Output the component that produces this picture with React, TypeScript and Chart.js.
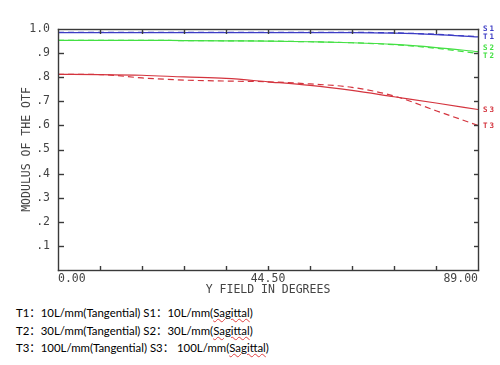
import React, { useEffect, useRef } from 'react';
import { Chart, registerables } from 'chart.js';
Chart.register(...registerables);

// Field angles (degrees) at which the MTF is sampled
const FIELD = [0, 8.9, 17.8, 26.7, 35.6, 44.5, 53.4, 62.3, 71.2, 80.1, 89];
// Series values (modulus of the OTF)
const S1 = [0.985, 0.985, 0.985, 0.985, 0.985, 0.985, 0.985, 0.985, 0.983, 0.977, 0.967];
const T1 = [0.986, 0.986, 0.986, 0.986, 0.986, 0.986, 0.986, 0.986, 0.984, 0.978, 0.968];
const S2 = [0.953, 0.953, 0.953, 0.952, 0.951, 0.95, 0.947, 0.943, 0.936, 0.923, 0.906];
const T2 = [0.953, 0.953, 0.953, 0.952, 0.951, 0.95, 0.947, 0.943, 0.935, 0.92, 0.899];
const S3 = [0.812, 0.811, 0.808, 0.801, 0.795, 0.781, 0.766, 0.745, 0.719, 0.693, 0.666];
const T3 = [0.812, 0.811, 0.797, 0.788, 0.784, 0.781, 0.772, 0.758, 0.722, 0.661, 0.6];
const SERIES_NAMES = ['S1', 'T1', 'S2', 'T2', 'S3', 'T3'];

// Tick positions / labels
const X_TICKS = [0, 8.9, 17.8, 26.7, 35.6, 44.5, 53.4, 62.3, 71.2, 80.1, 89];
const X_LABELS = ['0.00', '', '', '', '', '44.50', '', '', '', '', '89.00'];
const Y_TICKS = [0, 0.1, 0.2, 0.3, 0.4, 0.5, 0.6, 0.7, 0.8, 0.9, 1.0];
const Y_LABELS = ['', '.1', '.2', '.3', '.4', '.5', '.6', '.7', '.8', '.9', '1.0'];

const BLUE = '#3c3cc4';
const GREEN = '#44e044';
const RED = '#d4343e';
const AXIS = '#3a3a3a';
const TEXT = '#444444';
const MONO = 'DejaVu Sans Mono';

const LABEL_OFFSETS = [-8, 0, -3.5, 2.7, 1, 0.5];

const framePlugin = {
  id: 'mtfFrame',
  afterDraw(chart: any) {
    const ctx: CanvasRenderingContext2D = chart.ctx;
    const a = chart.chartArea;
    const xs = chart.scales.x;
    const ys = chart.scales.y;
    ctx.save();
    ctx.setLineDash([]);
    ctx.globalAlpha = 1;
    ctx.fillStyle = AXIS;
    const L = Math.round(a.left);
    const R = Math.round(a.right);
    const T = Math.round(a.top);
    const B = Math.round(a.bottom);
    const w = 1.4;
    const o = 0.2;
    ctx.fillRect(L - o, T - o, R - L + w, w);
    ctx.fillRect(L - o, B - o, R - L + w, w);
    ctx.fillRect(L - o, T - o, w, B - T + w);
    ctx.fillRect(R - o, T - o, w, B - T + w);
    for (let i = 1; i < X_TICKS.length - 1; i++) {
      const px = Math.round(xs.getPixelForValue(X_TICKS[i]));
      ctx.fillRect(px - o, B - 4, w, 4);
      ctx.fillRect(px - o, T + 1, w, 4);
    }
    for (let i = 1; i < Y_TICKS.length - 1; i++) {
      const py = Math.round(ys.getPixelForValue(Y_TICKS[i]));
      ctx.fillRect(L + 1, py - o, 5, w);
      ctx.fillRect(R - 4, py - o, 4, w);
    }

    // series labels at the right end
    ctx.font = `bold 7.5px ${MONO}`;
    (ctx as any).letterSpacing = '2px';
    ctx.textAlign = 'left';
    ctx.textBaseline = 'middle';
    chart.data.datasets.forEach((ds: any, i: number) => {
      const last = ds.data[ds.data.length - 1].y;
      const py = ys.getPixelForValue(last) + LABEL_OFFSETS[i];
      ctx.fillStyle = ds.borderColor;
      ctx.fillText(SERIES_NAMES[i], a.right + 5, py);
    });
    ctx.restore();
  },
};

function pts(vals: number[]) {
  return FIELD.map((x, i) => ({ x, y: vals[i] }));
}

function ChartView() {
  const ref = useRef<HTMLCanvasElement>(null);
  useEffect(() => {
    if (!ref.current) return;
    const mk = (vals: number[], color: string, dashed: boolean) => ({
      data: pts(vals),
      borderColor: color,
      backgroundColor: color,
      borderWidth: 1.2,
      borderDash: dashed ? [6, 4] : [],
      pointRadius: 0,
      fill: false,
      cubicInterpolationMode: 'monotone' as const,
    });
    const font = { family: MONO, size: 11.5 };
    const chart = new Chart(ref.current, {
      type: 'line',
      data: {
        datasets: [
          mk(S1, BLUE, false),
          mk(T1, BLUE, true),
          mk(S2, GREEN, false),
          mk(T2, GREEN, true),
          mk(S3, RED, false),
          mk(T3, RED, true),
        ],
      },
      plugins: [framePlugin],
      options: {
        responsive: false,
        animation: false,
        layout: { padding: { top: 29, right: 22, left: 0, bottom: 0 } },
        plugins: { legend: { display: false }, tooltip: { enabled: false } },
        scales: {
          x: {
            type: 'linear',
            min: 0,
            max: 89,
            afterBuildTicks: (s: any) => {
              s.ticks = X_TICKS.map((v) => ({ value: v }));
            },
            afterFit: (s: any) => {
              s.height = 30;
            },
            ticks: {
              autoSkip: false,
              maxRotation: 0,
              align: 'inner',
              padding: 2,
              color: TEXT,
              font,
              callback: (_v: any, i: number) => X_LABELS[i],
            },
            grid: { display: false, drawTicks: false },
            border: { display: false },
            title: {
              display: true,
              text: 'Y FIELD IN DEGREES',
              color: TEXT,
              font,
              padding: { top: 0, bottom: 3 },
            },
          },
          y: {
            type: 'linear',
            min: 0,
            max: 1,
            afterBuildTicks: (s: any) => {
              s.ticks = Y_TICKS.map((v) => ({ value: v }));
            },
            afterFit: (s: any) => {
              s.width = 58;
            },
            ticks: {
              autoSkip: false,
              padding: 8,
              color: TEXT,
              font,
              callback: (_v: any, i: number) => Y_LABELS[i],
            },
            grid: { display: false, drawTicks: false },
            border: { display: false },
            title: {
              display: true,
              text: 'MODULUS OF THE OTF',
              color: TEXT,
              font,
              padding: { top: 20, bottom: 0 },
            },
          },
        },
      },
    } as any);
    return () => chart.destroy();
  }, []);
  return <canvas ref={ref} width={500} height={300} style={{ display: 'block', width: 500, height: 300 }} />;
}

const CAPTION = [
  ['T1：10L/mm(Tangential) S1：10L/mm(', 'Sagittal', ')'],
  ['T2：30L/mm(Tangential) S2：30L/mm(', 'Sagittal', ')'],
  ['T3：100L/mm(Tangential) S3： 100L/mm(', 'Sagittal', ')'],
];

export default function App() {
  return (
    <div style={{ position: 'absolute', left: 0, top: 0, width: 500, height: 365, background: '#fff', overflow: 'hidden' }}>
      <ChartView />
      <div
        style={{
          position: 'absolute',
          left: 16,
          top: 304,
          fontFamily: 'Lato, "Noto Sans CJK SC", sans-serif',
          fontSize: 11.4,
          lineHeight: '17.5px',
          color: '#000',
          whiteSpace: 'pre',
        }}
      >
        {CAPTION.map((c, i) => (
          <div key={i}>
            {c[0]}
            <span style={{ textDecoration: 'underline wavy #e04040', textDecorationThickness: '1px' }}>{c[1]}</span>
            {c[2]}
          </div>
        ))}
      </div>
    </div>
  );
}
